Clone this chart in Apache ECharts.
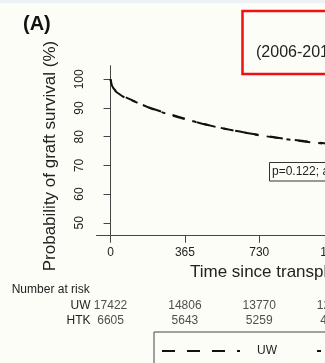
<!DOCTYPE html>
<html><head><meta charset="utf-8">
<script src="https://cdn.jsdelivr.net/npm/echarts@6/dist/echarts.min.js"></script>
<style>html,body{margin:0;padding:0;background:#fdfdf8;}#c{width:325px;height:363px;}</style>
</head><body><div id="c"></div>
<script>
// Kaplan-Meier curves (days, survival %)
const days = [0, 3, 7, 14, 30, 60, 100, 150, 200, 270, 365, 450, 540, 635, 730, 845, 950, 1050, 1095, 1200, 1460, 1825];
const uwSurvival = [100, 99.0, 97.8, 96.9, 95.6, 94.2, 92.9, 91.2, 89.9, 88.3, 86.3, 84.5, 83.1, 81.7, 80.6, 79.4, 78.5, 77.7, 77.3, 76.5, 74.5, 72.0];
const htkSurvival = [100, 98.8, 97.6, 96.7, 95.5, 94.0, 92.8, 91.3, 89.8, 88.1, 86.1, 84.6, 83.0, 81.8, 80.5, 79.3, 78.3, 77.6, 77.1, 76.2, 74.0, 71.5];
const xTicks = [0, 365, 730, 1095, 1460, 1825];
const yTicks = [50, 60, 70, 80, 90, 100];
const groups = ['UW', 'HTK'];
const riskTimes = [0, 365, 730, 1095, 1460, 1825];
const uwAtRisk = [17422, 14806, 13770, 12851, 11902, 10754];
const htkAtRisk = [6605, 5643, 5259, 4936, 4580, 4102];

const FONT = "'Liberation Sans', Arial, sans-serif";
const TXT = '#222';
const AX = '#444';
const chart = echarts.init(document.getElementById('c'), null, {renderer: 'canvas'});

const xCommon = {type: 'value', min: -69, max: 1900};
const option = {
  backgroundColor: '#fdfdf8',
  animation: false,
  textStyle: {fontFamily: FONT},
  grid: [
    {left: 96.5, top: 65.7, width: 401, height: 170, containLabel: false, outerBoundsMode: 'none'},
    {left: 96.5, top: 298.4, width: 401, height: 29.2, containLabel: false, outerBoundsMode: 'none'}
  ],
  xAxis: [
    Object.assign({}, xCommon, {
      gridIndex: 0,
      axisLine: {show: true, lineStyle: {color: AX, width: 1}},
      axisTick: {show: true, length: 7, customValues: xTicks, lineStyle: {color: AX}},
      axisLabel: {show: true, customValues: xTicks, margin: 11, fontSize: 12, color: TXT, fontFamily: FONT,
        formatter: v => String(v)},
      splitLine: {show: false}
    }),
    Object.assign({}, xCommon, {gridIndex: 1, show: false})
  ],
  yAxis: [
    {
      type: 'value', gridIndex: 0, min: 45.5, max: 104.75,
      axisLine: {show: true, lineStyle: {color: AX, width: 1}},
      axisTick: {show: true, length: 7, customValues: yTicks, lineStyle: {color: AX}},
      axisLabel: {show: true, customValues: yTicks, rotate: 90, margin: 11, fontSize: 12, color: TXT, fontFamily: FONT},
      splitLine: {show: false}
    },
    {
      type: 'category', gridIndex: 1, data: groups.slice().reverse(),
      axisLine: {show: false}, axisTick: {show: false},
      axisLabel: {interval: 0, hideOverlap: false, margin: 6, fontSize: 12, color: TXT, fontFamily: FONT}
    }
  ],
  legend: {
    type: 'plain', orient: 'horizontal',
    left: 154, top: 332, width: 400,
    data: groups,
    itemWidth: 78, itemHeight: 14, itemGap: 39,
    padding: [13, 8, 30, 7],
    borderColor: '#444', borderWidth: 1,
    itemStyle: {opacity: 0},
    textStyle: {fontSize: 12, color: TXT, fontFamily: FONT, padding: [0, 0, 0, 12]}
  },
  series: [
    {
      name: 'UW', type: 'line', xAxisIndex: 0, yAxisIndex: 0,
      data: days.map((d, i) => [d, uwSurvival[i]]),
      symbol: 'none', showSymbol: false,
      lineStyle: {color: '#111', width: 2, type: [13, 12]},
      itemStyle: {color: '#111'}
    },
    {
      name: 'HTK', type: 'line', xAxisIndex: 0, yAxisIndex: 0,
      data: days.map((d, i) => [d, htkSurvival[i]]),
      symbol: 'none', showSymbol: false,
      lineStyle: {color: '#111', width: 2, type: [4, 8, 12, 8]},
      itemStyle: {color: '#111'}
    },
    {
      name: 'risk-UW', type: 'scatter', xAxisIndex: 1, yAxisIndex: 1,
      data: riskTimes.map((t, i) => [t, 'UW', uwAtRisk[i]]),
      symbolSize: 1, itemStyle: {color: 'rgba(0,0,0,0)'},
      label: {show: true, position: 'inside', formatter: p => String(p.value[2]), fontSize: 12, color: TXT, fontFamily: FONT}
    },
    {
      name: 'risk-HTK', type: 'scatter', xAxisIndex: 1, yAxisIndex: 1,
      data: riskTimes.map((t, i) => [t, 'HTK', htkAtRisk[i]]),
      symbolSize: 1, itemStyle: {color: 'rgba(0,0,0,0)'},
      label: {show: true, position: 'inside', formatter: p => String(p.value[2]), fontSize: 12, color: TXT, fontFamily: FONT}
    }
  ],
  graphic: [
    {type: 'rect', left: 0, top: 0, shape: {width: 325, height: 3}, style: {fill: '#edf1f6'}, silent: true},
    {type: 'text', x: 23, y: 24, style: {text: '(A)', font: 'bold 20px ' + FONT, fill: '#111', textVerticalAlign: 'middle'}},
    {type: 'rect', shape: {x: 242.5, y: 11, width: 220, height: 63}, style: {fill: 'none', stroke: '#f01010', lineWidth: 2.5}},
    {type: 'text', x: 256, y: 53, style: {text: '(2006-2014)', font: '16px ' + FONT, fill: TXT, textVerticalAlign: 'middle'}},
    {type: 'text', x: 50, y: 156, rotation: Math.PI / 2, style: {text: 'Probability of graft survival (%)', font: '17px ' + FONT, fill: TXT, textAlign: 'center', textVerticalAlign: 'middle'}},
    {type: 'text', x: 190, y: 272, style: {text: 'Time since transplantation (days)', font: '17px ' + FONT, fill: TXT, textVerticalAlign: 'middle'}},
    {type: 'rect', shape: {x: 269.5, y: 162.5, width: 160, height: 18.5}, style: {fill: '#fdfdf8', stroke: '#333', lineWidth: 1}},
    {type: 'text', x: 272, y: 172, style: {text: 'p=0.122; adjusted p=0.351', font: '12px ' + FONT, fill: TXT, textVerticalAlign: 'middle'}},
    {type: 'text', x: 11.7, y: 289.3, style: {text: 'Number at risk', font: '12px ' + FONT, fill: TXT, textVerticalAlign: 'middle'}}
  ]
};
chart.setOption(option);
</script>
</body></html>
